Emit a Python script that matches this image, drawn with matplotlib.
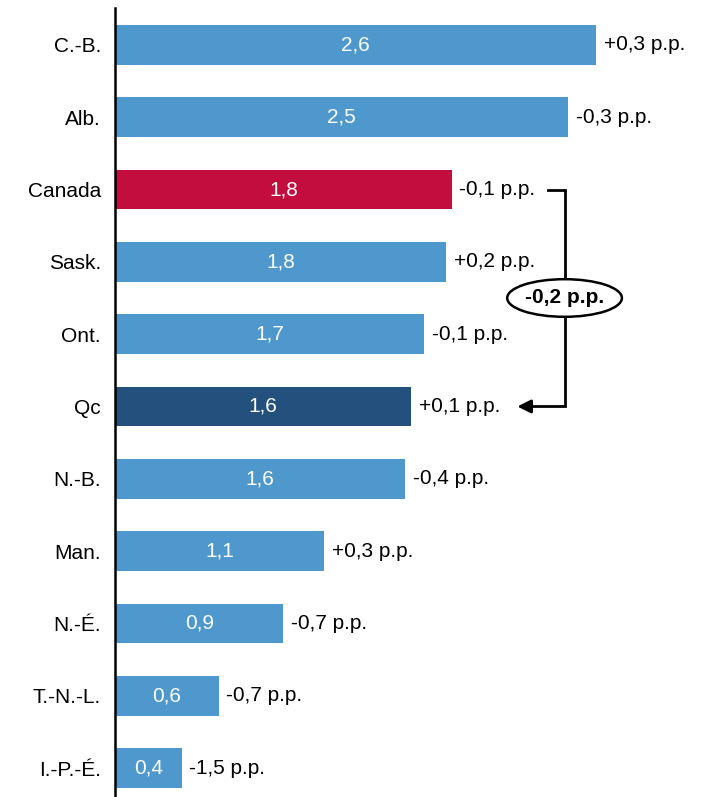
import matplotlib
matplotlib.use("Agg")
import matplotlib.pyplot as plt
from matplotlib.patches import Ellipse

plt.rcParams['font.family'] = ['Liberation Sans', 'DejaVu Sans']

provinces = ["C.-B.", "Alb.", "Canada", "Sask.", "Ont.", "Qc", "N.-B.", "Man.", "N.-É.", "T.-N.-L.", "I.-P.-É."]
values = [2.60, 2.45, 1.82, 1.79, 1.67, 1.60, 1.57, 1.13, 0.91, 0.56, 0.36]
value_labels = ["2,6", "2,5", "1,8", "1,8", "1,7", "1,6", "1,6", "1,1", "0,9", "0,6", "0,4"]
changes = ["+0,3 p.p.", "-0,3 p.p.", "-0,1 p.p.", "+0,2 p.p.", "-0,1 p.p.", "+0,1 p.p.",
           "-0,4 p.p.", "+0,3 p.p.", "-0,7 p.p.", "-0,7 p.p.", "-1,5 p.p."]
gap_label = "-0,2 p.p."

BLUE = "#4E98CE"
RED = "#C30D3E"
NAVY = "#23507D"
colors = [RED if p == "Canada" else NAVY if p == "Qc" else BLUE for p in provinces]

FS = 15

fig = plt.figure(figsize=(7.06, 7.97), dpi=100)
ax = fig.add_axes([115/706, 0, 591/706, 789/797])

y = list(range(len(provinces)))
ax.barh(y, values, height=0.55, color=colors, edgecolor="none")
ax.set_xlim(0, 591/185)
ax.set_ylim(10.40, -0.51)

for i, (v, lab, ch) in enumerate(zip(values, value_labels, changes)):
    ax.text(v/2, i, lab, color="white", ha="center", va="center", fontsize=FS)
    ax.annotate(ch, (v, i), xytext=(5.5, 0), textcoords="offset points",
                ha="left", va="center", fontsize=FS, color="black")

ax.set_yticks(y)
ax.set_yticklabels(provinces, fontsize=FS)
ax.tick_params(axis="y", length=0, pad=10)
ax.set_xticks([])
for s in ["top", "right", "bottom"]:
    ax.spines[s].set_visible(False)
ax.spines["left"].set_linewidth(1.8)

# bracket from Canada to Qc
ic = provinces.index("Canada")
iq = provinces.index("Qc")
xs, xv, xa = 2.34, 2.43, 2.16
ax.plot([xs, xv, xv, xa + 0.06], [ic, ic, iq, iq], color="black", lw=2, solid_joinstyle="miter")
ax.annotate("", xy=(xa, iq), xytext=(xa + 0.08, iq),
            arrowprops=dict(arrowstyle="-|>", color="black", lw=2, mutation_scale=20))
ym = (ic + iq) / 2
ax.add_patch(Ellipse((xv, ym), 0.62, 0.52, facecolor="white", edgecolor="black", lw=1.8, zorder=5))
ax.text(xv, ym, gap_label, ha="center", va="center", fontsize=FS, fontweight="bold", zorder=6)

fig.savefig("out.png", dpi=100)
